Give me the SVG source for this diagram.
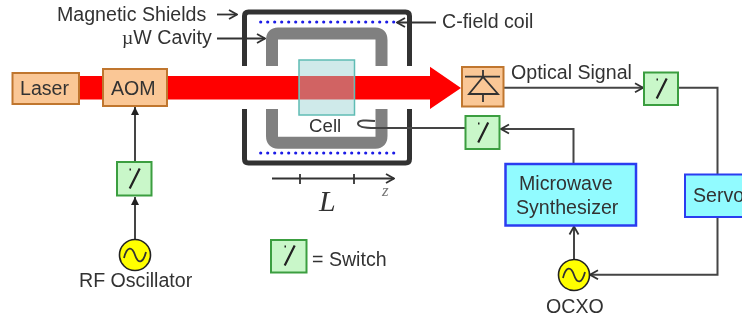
<svg xmlns="http://www.w3.org/2000/svg" width="742" height="320" viewBox="0 0 742 320">
<defs>
<style>
text{font-family:"Liberation Sans",Arial,sans-serif;font-size:19.6px;fill:#333}
.orange{fill:#fac796;stroke:#c0762e;stroke-width:2}
.green{fill:#c9f7c9;stroke:#3a9e3f;stroke-width:2}
.cyan{fill:#91fbff;stroke:#2b3cf0;stroke-width:2.5}
.osc{fill:#ffff00;stroke:#222;stroke-width:1.6}
.wire{fill:none;stroke:#444;stroke-width:2}
.thin{fill:none;stroke:#333;stroke-width:1.8}
.sym{fill:none;stroke:#333;stroke-width:1.8}
.slash{fill:none;stroke:#222;stroke-width:2.2}
.dots{fill:none;stroke:#1a1ae6;stroke-width:3.2;stroke-linecap:round;stroke-dasharray:0 7}
.shield{fill:none;stroke:#333;stroke-width:5;stroke-linejoin:round}
.cavity{fill:none;stroke:#808080;stroke-width:12;stroke-linejoin:round}
</style>
<filter id="soft" x="0" y="0" width="100%" height="100%"><feGaussianBlur stdDeviation="0.5"/></filter>
<marker id="open" viewBox="0 0 12 12" refX="11" refY="6" markerWidth="12" markerHeight="12" markerUnits="userSpaceOnUse" orient="auto"><path d="M3 1.500L11 6L3 10.500" fill="none" stroke="#333" stroke-width="1.8"/></marker>
<marker id="solid" viewBox="0 0 10 10" refX="9" refY="5" markerWidth="10" markerHeight="10" markerUnits="userSpaceOnUse" orient="auto"><path d="M1 1L9 5L1 9Z" fill="#222"/></marker>
<g id="sw"><path class="slash" d="M-4.500 -9.500h1.500M5.700 -10.500L-4.300 9.500"/></g>
</defs>

<g filter="url(#soft)">
<rect width="742" height="320" fill="#ffffff"/>
<g id="beam"><path d="M79 76H430V66.700L461 88L430 109V99.500H79Z" fill="#ff0000"/></g>

<g id="magnetic-shields">
<path class="shield" d="M244.500 66V16Q244.500 12 248.500 12H405.500Q409.500 12 409.500 16V66"/>
<path class="shield" d="M244.500 109V159Q244.500 163 248.500 163H405.500Q409.500 163 409.500 159V109"/>
</g>
<g id="cavity">
<path class="cavity" d="M272 66V40Q272 33.500 278 33.500H375.500Q381.500 33.500 381.500 40V66"/>
<path class="cavity" d="M272 109V136Q272 142.700 278 142.700H375.500Q381.500 142.700 381.500 136V109"/>
</g>
<g id="c-field-coil">
<path class="dots" d="M260.700 22H395"/>
<path class="dots" d="M260.700 153H395"/>
</g>
<g id="cell">
<rect x="299" y="60" width="55.500" height="55" fill="#cfeaea" stroke="#5fbcb4" stroke-width="1.500"/>
<rect x="299.800" y="76" width="54" height="23.500" fill="#d16464"/>
<text x="309" y="132" style="font-size:18.700px">Cell</text>
</g>

<g id="connectors">
<path class="thin" d="M217 14.500H237" marker-end="url(#open)"/>
<path class="thin" d="M217 38.500H265" marker-end="url(#open)"/>
<path class="thin" d="M436 22.500H397" marker-end="url(#open)"/>
<path class="wire" d="M135 162V107" marker-end="url(#solid)"/>
<path class="wire" d="M135 239V197" marker-end="url(#solid)"/>
<path class="wire" d="M504 87.700H643" marker-end="url(#open)"/>
<path class="wire" d="M678 87.700H717.500V174"/>
<path class="wire" d="M717.500 217V274.700H590" marker-end="url(#open)"/>
<path class="wire" d="M573.500 164V129H501" marker-end="url(#open)"/>
<path class="wire" d="M574 259V226.500" marker-end="url(#open)"/>
<path class="wire" d="M465 128H375C366 128 358 127 358 123.500C358 120 366 120 375 121"/>
<path class="thin" d="M272 178.500H394" marker-end="url(#open)"/>
<path class="thin" d="M300 174V184M354 174V184"/>
</g>

<g id="laser"><rect class="orange" x="12.500" y="73" width="66.500" height="31"/><text x="20" y="95">Laser</text></g>
<g id="aom"><rect class="orange" x="103" y="69" width="64" height="37"/><text x="111" y="95">AOM</text></g>
<g id="detector">
<rect class="orange" x="462" y="67" width="41.500" height="39.500"/>
<path class="sym" d="M465 76.700H500M483 70V77M469 94L483 77L498 94ZM483 94V102"/>
</g>
<g id="switch-rf"><rect class="green" x="117" y="162" width="34.500" height="33.500"/><use href="#sw" x="134" y="179"/></g>
<g id="switch-signal"><rect class="green" x="644" y="72.500" width="34" height="32.500"/><use href="#sw" x="661" y="89"/></g>
<g id="switch-mw"><rect class="green" x="465.500" y="116" width="34" height="33"/><use href="#sw" x="482.500" y="133"/></g>
<g id="switch-legend"><rect class="green" x="271" y="240" width="35.500" height="32.500"/><use href="#sw" x="289" y="256"/><text x="312" y="266">= Switch</text></g>
<g id="rf-oscillator">
<circle class="osc" cx="135" cy="255" r="15.500"/>
<path class="sym" d="M124 258C127 246 132 246 135 255C138 264 143 264 146 252"/>
<text x="79" y="287">RF Oscillator</text>
</g>
<g id="ocxo">
<circle class="osc" cx="574" cy="275" r="15.500"/>
<path class="sym" d="M563 278C566 266 571 266 574 275C577 284 582 284 585 272"/>
<text x="546" y="313">OCXO</text>
</g>
<g id="microwave-synthesizer">
<rect class="cyan" x="505.500" y="164" width="130.500" height="61.500"/>
<text x="519" y="190">Microwave</text>
<text x="516" y="214">Synthesizer</text>
</g>
<g id="servo"><rect class="cyan" x="685" y="174.500" width="70" height="42.500" style="stroke-width:2"/><text x="693" y="202">Servo</text></g>

<g id="labels">
<text x="57" y="21">Magnetic Shields</text>
<text x="122" y="44"><tspan font-family="Liberation Serif">µ</tspan>W Cavity</text>
<text x="442" y="28">C-field coil</text>
<text x="511" y="79">Optical Signal</text>
<text x="319" y="211" style="font-family:'Liberation Serif',serif;font-style:italic;font-size:30px">L</text>
<text x="382" y="196" style="font-family:'Liberation Serif',serif;font-style:italic;font-size:17px;fill:#777">z</text>
</g>
</g>
</svg>
